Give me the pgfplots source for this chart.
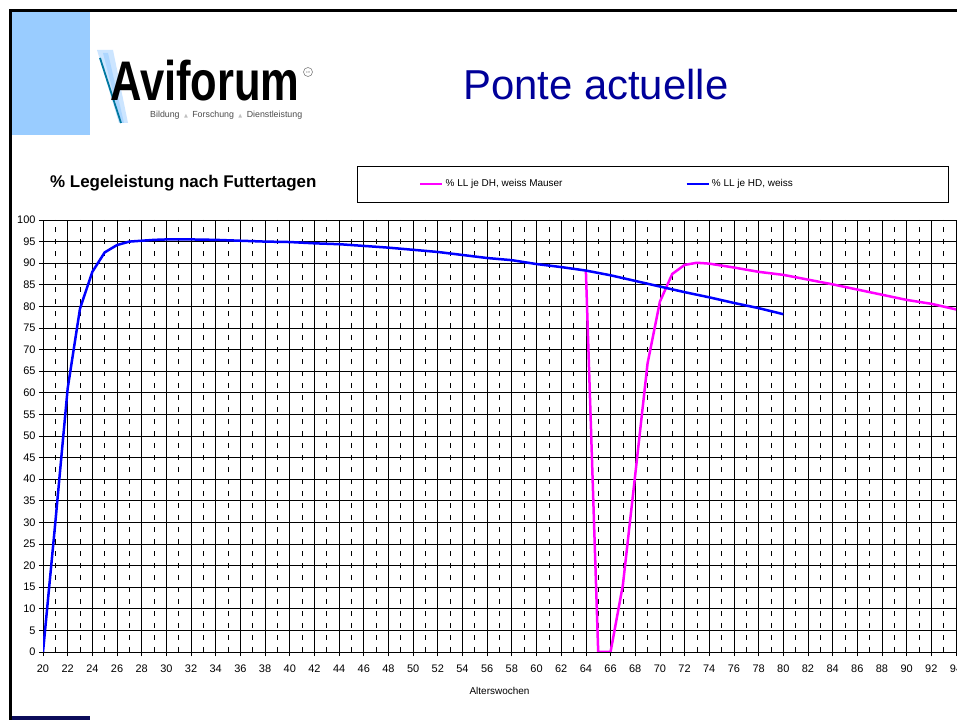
\documentclass[border=0pt]{standalone}
\usepackage{pgfplots}
\pgfplotsset{compat=1.18}
\usepackage{fontspec}
\setmainfont{Liberation Sans}
\newfontfamily\dejavu{DejaVu Sans}
\definecolor{navytitle}{RGB}{0,0,153}
\definecolor{lightblue}{RGB}{153,204,255}
\definecolor{darknavy}{RGB}{12,12,90}
\definecolor{mag}{RGB}{255,0,255}
\definecolor{blu}{RGB}{0,0,255}
\definecolor{teal2}{RGB}{0,120,160}
\begin{document}
\begin{tikzpicture}
\useasboundingbox (0,0) rectangle (957bp,720bp);
\fill[white] (0,0) rectangle (957bp,720bp);
\fill[lightblue] (12bp,585bp) rectangle (90bp,708bp);
\fill[darknavy] (12bp,0bp) rectangle (90bp,4bp);
\draw[black, line width=2.5bp] (10.5bp,0bp) -- (10.5bp,709.5bp) -- (957bp,709.5bp);
% logo
\fill[lightblue!50] (97bp,670bp) -- (113bp,670bp) -- (128bp,597bp) -- (119bp,597bp) -- cycle;
\fill[lightblue!80] (103bp,667bp) -- (108bp,667bp) -- (124bp,597bp) -- (121bp,597bp) -- cycle;
\draw[teal2, line width=1.8bp] (100bp,662bp) -- (121bp,597bp);
\node[anchor=base west, inner sep=0pt] at (110bp,619bp) {\scalebox{0.78}[1]{\fontsize{56}{56}\selectfont\bfseries Aviforum}};
\draw[gray, line width=0.6bp] (308bp,648bp) circle (4.5bp);
\node[inner sep=0pt, gray] at (308bp,648bp) {\fontsize{3}{3}\selectfont CH};
\node[anchor=base west, inner sep=0pt, text=black!70] at (150bp,602bp) {\resizebox{152bp}{!}{\fontsize{7}{8}\selectfont Bildung\enspace{\dejavu\fontsize{4}{4}\selectfont\textcolor{gray!50}{▲}}\enspace Forschung\enspace{\dejavu\fontsize{4}{4}\selectfont\textcolor{gray!50}{▲}}\enspace Dienstleistung}};
% title
\node[anchor=base west, inner sep=0pt, text=navytitle] at (463bp,620bp) {\fontsize{42}{48}\selectfont Ponte actuelle};
\node[anchor=base west, inner sep=0pt] at (50bp,532bp) {\fontsize{17}{20}\selectfont\bfseries \% Legeleistung nach Futtertagen};
\draw[black, line width=1bp] (357bp,517bp) rectangle (948bp,553bp);
\begin{axis}[
 at={(43bp,68bp)}, anchor=south west,
 scale only axis, width=913bp, height=432bp,
 xmin=20, xmax=94, ymin=0, ymax=100,
 xtick={20,22,...,94}, ytick={0,5,...,100},
 minor xtick={21,23,...,93},
 grid=both,
 major grid style={black, line width=0.7bp},
 minor grid style={black, line width=0.7bp, dash pattern=on 5bp off 7bp},
 axis x line*=bottom, axis y line*=left,
 axis line style={black, line width=0.8bp, -},
 tick align=outside, major tick length=4bp, minor tick length=0pt,
 tick style={black, line width=0.7bp},
 ticklabel style={font=\fontsize{11}{13}\selectfont},
 xticklabel style={yshift=-5bp},
 /pgf/number format/assume math mode=true,
 xlabel={Alterswochen}, xlabel style={font=\fontsize{10}{12}\selectfont, yshift=-8bp},
 legend style={draw=none, fill=none, inner sep=0pt, at={(axis description cs:0.4118,1.0833)}, anchor=west, legend columns=2, font=\fontsize{10}{12}\selectfont, /tikz/every even column/.append style={column sep=121bp}},
 legend image code/.code={\draw[#1, line width=2.5bp] (0bp,0bp) -- (22bp,0bp);},
]
\addplot[mag, line width=2.5bp] coordinates {
(64,88.4) (65,0) (66,0) (67,15.5) (68,41) (69,66.8) (70,81.1) (71,87.5) (72,89.6) (73,90.1) (74,89.9) (76,89.0) (78,88.0) (80,87.3) (82,86.2) (84,85.1) (86,83.9) (88,82.7) (90,81.5) (92,80.6) (94,79.3)
};
\addlegendentry{\% LL je DH, weiss Mauser}
\addplot[blu, line width=2.5bp] coordinates {
(20,0) (21,30) (22,61) (23,79.5) (24,88) (25,92.5) (26,94.2) (27,95) (28,95.2) (29,95.4) (30,95.5) (32,95.5) (34,95.4) (36,95.2) (38,95.0) (40,94.9) (42,94.6) (44,94.4) (46,94.0) (48,93.6) (50,93.1) (52,92.6) (54,91.9) (56,91.2) (58,90.7) (60,89.8) (62,89.1) (64,88.3) (66,87.2) (68,85.9) (70,84.6) (72,83.3) (74,82.1) (76,80.8) (78,79.6) (80,78.2)
};
\addlegendentry{\% LL je HD, weiss}
\end{axis}
\end{tikzpicture}
\end{document}
